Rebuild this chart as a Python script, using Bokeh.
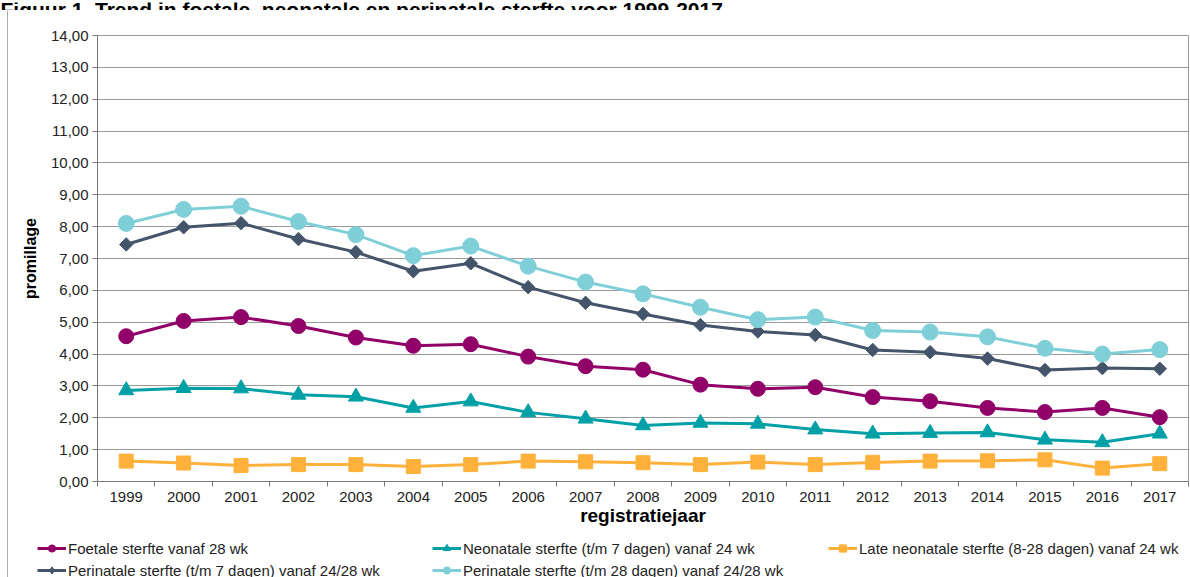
from bokeh.plotting import figure
from bokeh.layouts import column, row
from bokeh.models import (ColumnDataSource, Legend, LegendItem, FixedTicker,
                          CustomJSTickFormatter, Range1d, Span)
from bokeh.core.properties import value
from bokeh.embed import file_html
from bokeh.resources import INLINE

title = "Figuur 1. Trend in foetale, neonatale en perinatale sterfte voor 1999-2017"

years = list(range(1999, 2018))
year_labels = [str(y) for y in years]

foetale = [4.56, 5.04, 5.16, 4.88, 4.52, 4.26, 4.31, 3.92, 3.62, 3.51,
           3.04, 2.91, 2.96, 2.65, 2.52, 2.31, 2.18, 2.31, 2.02]
neonatale = [2.86, 2.93, 2.92, 2.72, 2.66, 2.31, 2.51, 2.17, 1.97, 1.76,
             1.84, 1.81, 1.63, 1.50, 1.52, 1.54, 1.31, 1.23, 1.50]
late_neonatale = [0.64, 0.58, 0.50, 0.53, 0.53, 0.47, 0.53, 0.64, 0.62, 0.59,
                  0.53, 0.61, 0.53, 0.60, 0.64, 0.65, 0.68, 0.42, 0.56]
perinatale7 = [7.44, 7.98, 8.11, 7.61, 7.20, 6.60, 6.85, 6.10, 5.61, 5.26,
               4.91, 4.71, 4.60, 4.13, 4.06, 3.86, 3.50, 3.56, 3.54]
perinatale28 = [8.10, 8.54, 8.64, 8.16, 7.75, 7.09, 7.39, 6.76, 6.26, 5.89,
                5.47, 5.08, 5.16, 4.74, 4.69, 4.54, 4.18, 4.00, 4.14]

labels = ["Foetale sterfte vanaf 28 wk",
          "Neonatale sterfte (t/m 7 dagen) vanaf 24 wk",
          "Late neonatale sterfte (8-28 dagen) vanaf 24 wk",
          "Perinatale sterfte (t/m 7 dagen) vanaf 24/28 wk",
          "Perinatale sterfte (t/m 28 dagen) vanaf 24/28 wk"]

FONT = "Liberation Sans"
BORDER = "#555555"

# key, colour, marker (chart), size, angle, marker (legend)
series = [
    ("late", "#FFB13B", "square", 14, 0.0, "square"),
    ("neonatale", "#00A0A6", "triangle", 15, 0.0, "triangle"),
    ("foetale", "#910068", "circle", 15, 0.0, "circle"),
    ("peri7", "#44546A", "square", 9.5, 0.785398, "diamond"),
    ("peri28", "#7FCFD8", "circle", 16, 0.0, "circle"),
]


def bare_fig(w, h, xr, yr):
    f = figure(width=w, height=h, x_range=xr, y_range=yr, output_backend="svg",
               toolbar_location=None, x_axis_type=None, y_axis_type=None,
               min_border_left=0, min_border_right=0, min_border_top=0,
               min_border_bottom=0)
    f.grid.visible = False
    f.outline_line_color = None
    f.background_fill_color = "white"
    f.border_fill_color = "white"
    f.frame_align = False
    return f


# ---- title strip (cut off at the top, as in the reference) ----
tf = bare_fig(1190, 10, Range1d(0, 1190), Range1d(0, 10))
tf.text(x=[0], y=[3], text=[title], text_font=value(FONT),
        text_font_style="bold", text_font_size="21px",
        text_baseline="alphabetic", text_color="#000000")
tf.add_layout(Span(location=0.5, dimension="width", line_color=BORDER, line_width=1))

# ---- left border strip ----
lf = bare_fig(8, 567, Range1d(0, 8), Range1d(0, 1))
lf.add_layout(Span(location=7.5, dimension="height", line_color=BORDER, line_width=1))

# ---- main chart ----
src = ColumnDataSource(dict(x=years, foetale=foetale, neonatale=neonatale,
                            late=late_neonatale, peri7=perinatale7,
                            peri28=perinatale28))

p = figure(width=1182, height=528, output_backend="svg", toolbar_location=None,
           x_range=Range1d(1998.5, 2017.5), y_range=Range1d(0, 14),
           min_border_left=89, min_border_top=25, min_border_right=2,
           min_border_bottom=57)
p.frame_align = False
p.background_fill_color = "white"
p.border_fill_color = "white"
p.outline_line_color = "#9a9a9a"

p.xaxis.ticker = FixedTicker(ticks=years,
                             minor_ticks=[y - 0.5 for y in years] + [2017.5])
p.xaxis.major_label_overrides = {y: l for y, l in zip(years, year_labels)}
p.xaxis.major_tick_out = 0
p.xaxis.major_tick_in = 0
p.xaxis.minor_tick_out = 5
p.xaxis.minor_tick_in = 0
p.xaxis.minor_tick_line_color = "#777777"
p.xaxis.major_label_standoff = 5
p.xaxis.axis_label = "registratiejaar"
p.xaxis.axis_label_standoff = 0

p.yaxis.ticker = FixedTicker(ticks=list(range(0, 15)))
p.yaxis.formatter = CustomJSTickFormatter(code="return tick.toFixed(2).replace('.', ',');")
p.yaxis.major_tick_out = 5
p.yaxis.major_tick_in = 0
p.yaxis.minor_tick_line_color = None
p.yaxis.major_label_standoff = 4
p.yaxis.axis_label = "promillage"
p.yaxis.axis_label_standoff = 9

for ax in (p.xaxis, p.yaxis):
    ax.axis_line_color = "#777777"
    ax.major_tick_line_color = "#777777"
    ax.major_label_text_font = FONT
    ax.major_label_text_font_size = "15px"
    ax.major_label_text_color = "#222222"
    ax.axis_label_text_font = FONT
    ax.axis_label_text_font_style = "bold"
    ax.axis_label_text_color = "#000000"
p.xaxis.axis_label_text_font_size = "19px"
p.yaxis.axis_label_text_font_size = "16px"

p.xgrid.grid_line_color = None
p.ygrid.grid_line_color = "#9a9a9a"

# ---- legend strip ----
lg_fig = bare_fig(1182, 39, Range1d(0, 1), Range1d(0, 1))

items = {}
for key, color, marker, size, ang, lg_marker in series:
    p.line("x", key, source=src, line_color=color, line_width=3)
    p.scatter("x", key, source=src, marker=marker, size=size, angle=ang,
              fill_color=color, line_color=color)
    lr = lg_fig.line("x", key, source=src, line_color=color, line_width=3)
    sr = lg_fig.scatter("x", key, source=src, marker=lg_marker, size=size,
                        fill_color=color, line_color=color)
    items[key] = [lr, sr]


def make_legend(entries, vx, vy):
    lg = Legend(items=[LegendItem(label=lab, renderers=items[k]) for lab, k in entries],
                location=(vx, vy), orientation="vertical",
                glyph_width=29, glyph_height=18, label_height=18,
                label_standoff=2, spacing=4, padding=0, margin=0,
                border_line_color=None, background_fill_alpha=0,
                label_text_font=FONT, label_text_font_size="15px",
                label_text_color="#222222")
    lg_fig.add_layout(lg, "center")


make_legend([(labels[0], "foetale"), (labels[3], "peri7")], 29, -2)
make_legend([(labels[1], "neonatale"), (labels[4], "peri28")], 424, -2)
make_legend([(labels[2], "late")], 820, 20)

layout = column(tf, row(lf, column(p, lg_fig)))

open("out.html", "w").write(file_html(layout, INLINE))
